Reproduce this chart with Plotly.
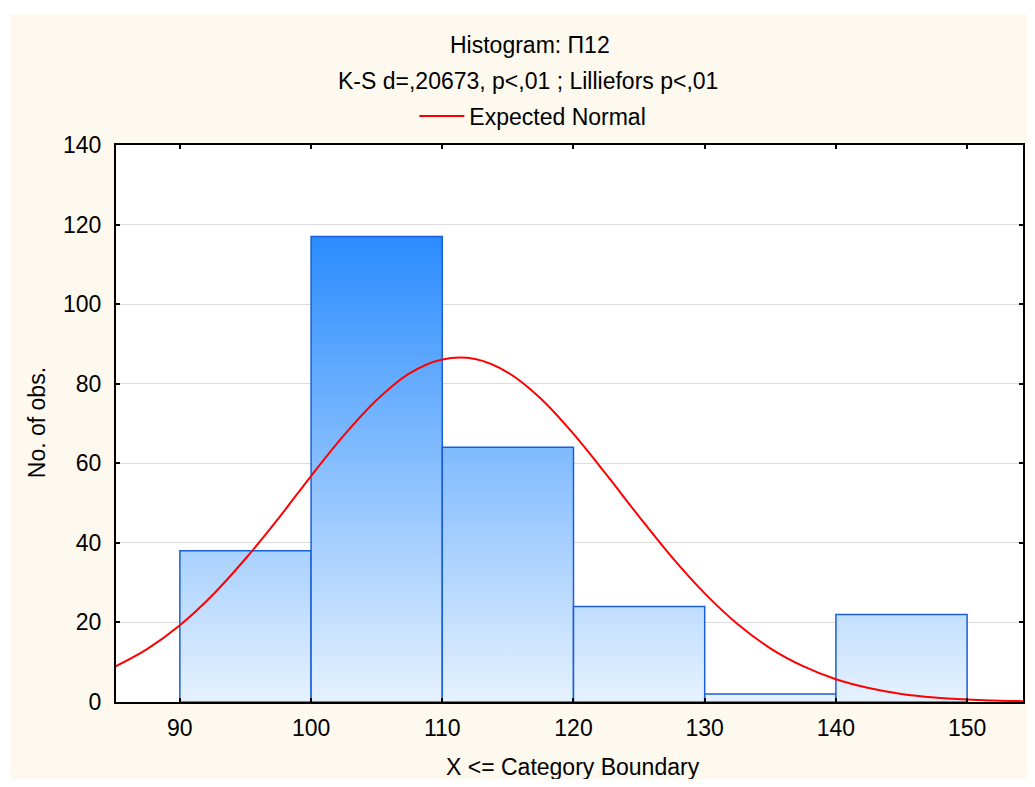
import plotly.graph_objects as go

# histogram bins and counts
bin_edges = [90, 100, 110, 120, 130, 140, 150]
counts = [38, 117, 64, 24, 2, 22]

# expected normal curve
curve_x = [85, 87.5, 90, 92.5, 95, 97.5, 100, 102.5, 105, 107.5, 110, 112.5, 115,
           117.5, 120, 122.5, 125, 127.5, 130, 132.5, 135, 137.5, 140, 142.5, 145,
           147.5, 150, 152.5, 155]
curve_y = [8.8, 13.3, 19.3, 26.9, 36.0, 46.1, 56.8, 67.0, 75.9, 82.6, 86.1, 86.2, 82.8,
           76.3, 67.4, 57.2, 46.6, 36.4, 27.3, 19.6, 13.5, 9.0, 5.7, 3.5, 2.0,
           1.1, 0.6, 0.3, 0.2]

x_ticks = [90, 100, 110, 120, 130, 140, 150]
y_ticks = [0, 20, 40, 60, 80, 100, 120, 140]

title_1 = 'Histogram: П12'
title_2 = 'K-S d=,20673, p<,01 ; Lilliefors p<,01'

FONT = 'Liberation Sans'
CREAM = '#FEF9EF'
FS = 23

# page body margin shifts the figure by 8px; keep the page from scrolling
OFF = 8
W, H = 1035 - 2 * OFF, 787 - 2 * OFF
# plot area edges in screen pixels
left, right, top_px, bottom = 116, 1025, 145, 702
L, R, T, B = left - OFF, W - (right - OFF), top_px - OFF, H - (bottom - OFF)

# x scale of the reference: 90 at 180px, 150 at 969px
x_lo = 90 - (180 - left) * 60 / (969 - 180)
x_hi = 150 + (right - 969) * 60 / (969 - 180)


def px_x(x):
    return (x - left) / (right - left)


def px_y(y):
    return (bottom - y) / (bottom - top_px)


fig = go.Figure()

top = max(counts)
for i, c in enumerate(counts):
    x0, x1 = bin_edges[i], bin_edges[i + 1]
    fig.add_trace(go.Scatter(
        x=[x0, x0, x1, x1, x0],
        y=[0, c, c, 0, 0],
        mode='lines',
        fill='toself',
        fillgradient=dict(type='vertical',
                          colorscale=[[0, '#E6F2FE'], [1, '#2A8CFF']],
                          start=0, stop=top),
        line=dict(color='#1B5FD8', width=1.5),
        showlegend=False,
        hoverinfo='skip'
    ))

fig.add_trace(go.Scatter(
    x=curve_x, y=curve_y,
    mode='lines',
    line=dict(color='#FF0000', width=2, shape='spline'),
    name='Expected Normal'
))

fig.update_layout(
    width=W, height=H,
    margin=dict(l=L, r=R, t=T, b=B),
    paper_bgcolor=CREAM,
    plot_bgcolor='white',
    font=dict(family=FONT, size=FS, color='black'),
    showlegend=True,
    legend=dict(orientation='h', x=px_x(415), y=px_y(116), xanchor='left', yanchor='middle',
                bgcolor='rgba(0,0,0,0)', font=dict(size=FS), itemwidth=45),
    shapes=[
        dict(type='rect', xref='paper', yref='paper', x0=px_x(0), x1=px_x(1040),
             y0=px_y(14), y1=px_y(0), fillcolor='white', line=dict(width=0), layer='below'),
        dict(type='rect', xref='paper', yref='paper', x0=px_x(0), x1=px_x(10),
             y0=px_y(790), y1=px_y(0), fillcolor='white', line=dict(width=0), layer='below'),
    ],
    annotations=[
        dict(text=title_1, xref='paper', yref='paper', x=px_x(531), y=px_y(45),
             showarrow=False, xanchor='center', yanchor='middle'),
        dict(text=title_2, xref='paper', yref='paper', x=px_x(529), y=px_y(81),
             showarrow=False, xanchor='center', yanchor='middle'),
        dict(text='X <= Category Boundary', xref='paper', yref='paper', x=px_x(574), y=px_y(767),
             showarrow=False, xanchor='center', yanchor='middle'),
        dict(text='No. of obs.', xref='paper', yref='paper', x=px_x(37), y=px_y(423),
             showarrow=False, xanchor='center', yanchor='middle', textangle=-90),
    ],
)

fig.update_xaxes(
    range=[x_lo, x_hi], tickvals=x_ticks, showgrid=False, zeroline=False,
    showline=True, linecolor='black', linewidth=2, mirror='ticks',
    ticks='inside', ticklen=4, tickcolor='black', tickwidth=1.5, ticklabelstandoff=4
)
fig.update_yaxes(
    range=[0, 140], tickvals=y_ticks, showgrid=True, gridcolor='#DCDCDC', gridwidth=1,
    zeroline=False, showline=True, linecolor='black', linewidth=2, mirror='ticks',
    ticks='inside', ticklen=4, tickcolor='black', tickwidth=1.5, ticklabelstandoff=8
)

fig.write_html('out.html')
